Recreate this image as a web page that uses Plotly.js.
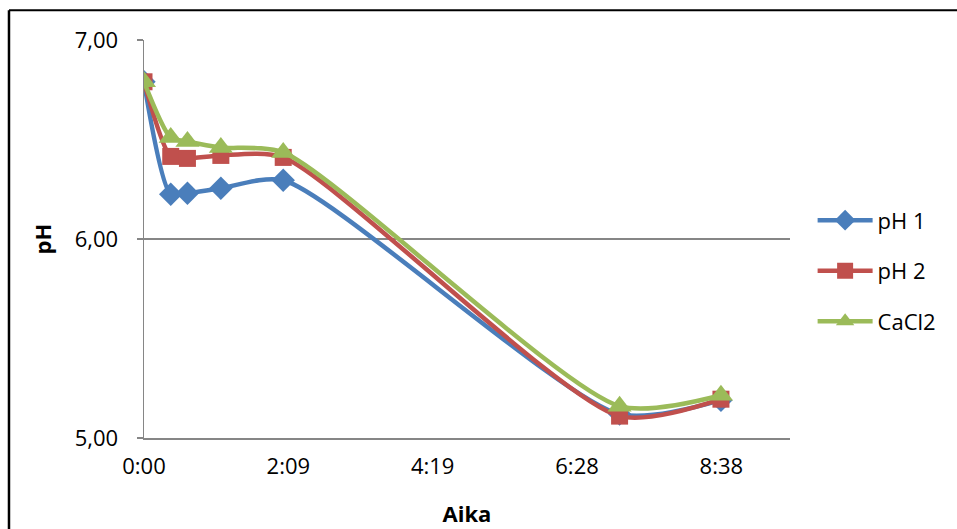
<!DOCTYPE html>
<html>
<head>
<meta charset="utf-8">
<script src="https://cdn.plot.ly/plotly-3.0.1.min.js"></script>
<style>
html,body{margin:0;padding:0;background:#fff;}
#chart{width:957px;height:529px;}
</style>
</head>
<body>
<div id="chart"></div>
<script>
// time in minutes
const timesMin = [0, 24, 39, 69, 125, 427, 518];
const ph1 = [6.79, 6.225, 6.23, 6.255, 6.295, 5.12, 5.19];
const ph2 = [6.79, 6.415, 6.405, 6.42, 6.41, 5.11, 5.195];
const cacl2 = [6.79, 6.51, 6.49, 6.46, 6.435, 5.16, 5.215];
const seriesNames = ['pH 1', 'pH 2', 'CaCl2'];
const tickVals = [0, 129.6, 259.2, 388.8, 518.4];
const tickText = ['0:00', '2:09', '4:19', '6:28', '8:38'];
const yTickVals = [5, 6, 7];
const yTickText = ['5,00', '6,00', '7,00'];

const FONT = 'Open Sans, Noto Sans, sans-serif';
const FS = 22;
function tr(y, name, color, symbol, size, grp) {
  return {
    x: timesMin, y: y, name: name, type: 'scatter', mode: 'lines+markers',
    legendgroup: grp,
    line: {color: color, width: 4.5, shape: 'spline', smoothing: 0.7},
    marker: {color: color, symbol: symbol, size: size}
  };
}
const data = [
  tr(ph1, seriesNames[0], '#4A7EBB', 'diamond', 18, 'a'),
  tr(ph2, seriesNames[1], '#C0504D', 'square', 17, 'b'),
  tr(cacl2, seriesNames[2], '#9BBB59', 'triangle-up', 21, 'c')
];
const layout = {
  width: 957, height: 529,
  margin: {l: 144, r: 167, t: 40, b: 91},
  paper_bgcolor: '#fff', plot_bgcolor: '#fff',
  font: {family: FONT, size: FS, color: '#000'},
  showlegend: true,
  legend: {x: 1.035, xanchor: 'left', y: 0.42, yanchor: 'middle',
    font: {family: FONT, size: FS, color: '#000'}, itemwidth: 55,
    tracegroupgap: 19, traceorder: 'grouped', bgcolor: 'rgba(0,0,0,0)'},
  xaxis: {
    range: [0, 580], tickmode: 'array', tickvals: tickVals, ticktext: tickText,
    showgrid: false, zeroline: false, showline: true, linecolor: '#868686', linewidth: 1.5,
    ticks: '', tickfont: {family: FONT, size: FS}, ticklabelstandoff: 8,
    title: {text: '<b>Aika</b>', font: {family: FONT, size: FS}, standoff: 27},
    fixedrange: true
  },
  yaxis: {
    range: [5, 7], tickmode: 'array', tickvals: yTickVals, ticktext: yTickText,
    showgrid: true, gridcolor: '#868686', gridwidth: 1.5, zeroline: false,
    showline: true, linecolor: '#868686', linewidth: 1.5,
    ticks: 'outside', ticklen: 6, tickcolor: '#868686', tickwidth: 1.5,
    tickfont: {family: FONT, size: FS}, ticklabelstandoff: 14,
    title: {text: '<b>pH</b>', font: {family: FONT, size: FS}, standoff: 17},
    fixedrange: true
  },
  shapes: [
    {type: 'line', xref: 'paper', yref: 'paper', x0: -0.209, x1: 1.3, y0: 1.075, y1: 1.075,
      line: {color: '#000', width: 2}},
    {type: 'line', xref: 'paper', yref: 'paper', x0: -0.209, x1: -0.209, y0: 1.075, y1: -0.3,
      line: {color: '#000', width: 2.5}}
  ]
};
Plotly.newPlot('chart', data, layout, {displayModeBar: false, staticPlot: true});
</script>
</body>
</html>
